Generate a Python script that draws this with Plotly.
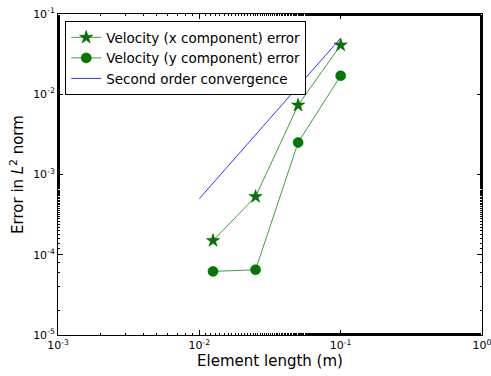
import plotly.graph_objects as go

h = [0.0125, 0.025, 0.05, 0.1]
err_x = [1.5e-4, 5.3e-4, 7.3e-3, 4.1e-2]
err_y = [6.2e-5, 6.5e-5, 2.5e-3, 1.7e-2]
ref_h = [0.01, 0.1]
ref_err = [5e-4, 5e-2]

xtick_vals = [1e-3, 1e-2, 1e-1, 1]
xtick_text = ["10<sup>-3</sup>", "10<sup>-2</sup>", "10<sup>-1</sup>", "10<sup>0</sup>"]
ytick_vals = [1e-5, 1e-4, 1e-3, 1e-2, 1e-1]
ytick_text = ["10<sup>-5</sup>", "10<sup>-4</sup>", "10<sup>-3</sup>", "10<sup>-2</sup>", "10<sup>-1</sup>"]

line_green = "#3aa03a"
mark_green = "#007a00"

fig = go.Figure()
fig.add_trace(go.Scatter(
    x=h, y=err_x, mode="lines+markers", name="Velocity (x component) error",
    line=dict(color=line_green, width=1),
    marker=dict(symbol="star", size=10, color=mark_green, line=dict(color="#004d00", width=0.5)),
))
fig.add_trace(go.Scatter(
    x=h, y=err_y, mode="lines+markers", name="Velocity (y component) error",
    line=dict(color=line_green, width=1),
    marker=dict(symbol="circle", size=10, color=mark_green, line=dict(color="#004d00", width=0.5)),
))
fig.add_trace(go.Scatter(
    x=ref_h, y=ref_err, mode="lines", name="Second order convergence",
    line=dict(color="#3333ff", width=1),
))

axis_common = dict(
    type="log", showgrid=False, zeroline=False, showline=True, linecolor="black", linewidth=1,
    mirror="allticks", ticks="inside", ticklen=5, tickcolor="black", automargin=False,
    ticklabeloverflow="allow",
    minor=dict(ticks="inside", ticklen=2, tickcolor="black", showgrid=False),
    tickfont=dict(family="DejaVu Sans", size=11, color="black"),
)

fig.update_layout(
    width=491, height=376,
    margin=dict(l=58, r=9, t=14, b=41),
    paper_bgcolor="white", plot_bgcolor="white",
    font=dict(family="DejaVu Sans", color="black"),
    xaxis=dict(axis_common, range=[-3, 0], tickvals=xtick_vals, ticktext=xtick_text,
               title=dict(text="Element length (m)", font=dict(size=15), standoff=3)),
    yaxis=dict(axis_common, range=[-5, -1], tickvals=ytick_vals, ticktext=ytick_text,
               title=dict(text="Error in <i>L</i><sup>2</sup> norm", font=dict(size=15), standoff=5)),
    legend=dict(x=0.017, y=0.978, xanchor="left", yanchor="top",
                bordercolor="black", borderwidth=1, bgcolor="white",
                font=dict(size=13.5, family="DejaVu Sans"), tracegroupgap=0),
    showlegend=True,
)

fig.write_html("out.html", post_script="document.body.style.margin='0';",
               config={"displayModeBar": False})
